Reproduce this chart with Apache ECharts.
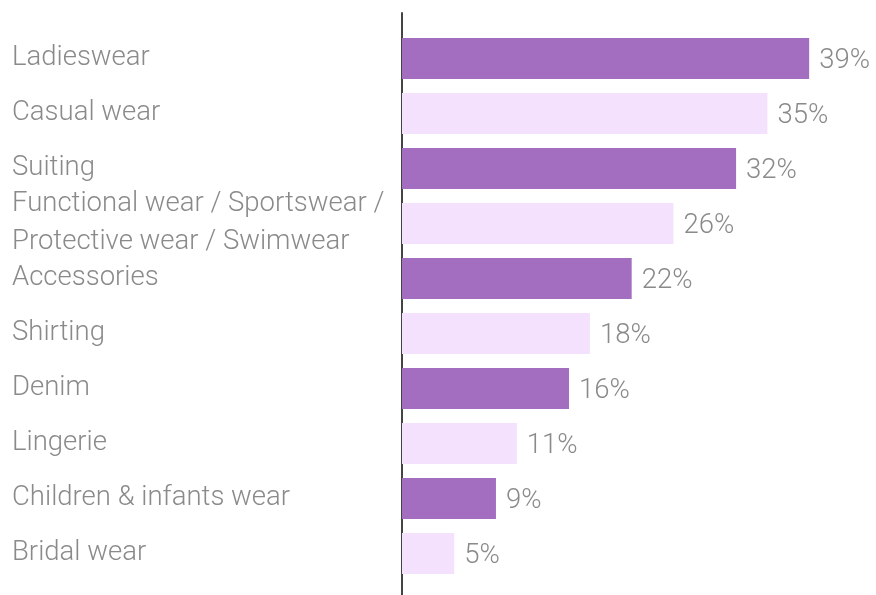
<!DOCTYPE html>
<html>
<head>
<meta charset="utf-8">
<script src="https://cdn.jsdelivr.net/npm/echarts@6/dist/echarts.min.js"></script>
<style>
html,body{margin:0;padding:0;background:#fff;}
#chart{width:876px;height:595px;}
</style>
</head>
<body>
<div id="chart"></div>
<script>
const categories = [
  "Ladieswear",
  "Casual wear",
  "Suiting",
  "Functional wear / Sportswear /\nProtective wear / Swimwear",
  "Accessories",
  "Shirting",
  "Denim",
  "Lingerie",
  "Children & infants wear",
  "Bridal wear"
];
const values = [39, 35, 32, 26, 22, 18, 16, 11, 9, 5];
const barColors = ["#a36dc0", "#f3e1fe"];

const chart = echarts.init(document.getElementById('chart'));
const fontFamily = 'Roboto, "Liberation Sans", sans-serif';
chart.setOption({
  animation: false,
  grid: [
    {left: 402, top: 31, width: 469.8, height: 550, containLabel: false},
    {left: 402, top: 13, width: 100, height: 582, containLabel: false}
  ],
  xAxis: [
    {gridIndex: 0, type: 'value', min: 0, max: 45, show: false},
    {gridIndex: 1, type: 'value', min: 0, max: 1, show: false}
  ],
  yAxis: [
    {
      gridIndex: 0,
      type: 'category',
      inverse: true,
      data: categories,
      axisLine: {show: false},
      axisTick: {show: false},
      axisLabel: {
        align: 'left',
        margin: 390,
        color: '#8a8a8a',
        fontSize: 27.5,
        fontWeight: 300,
        fontFamily: fontFamily,
        lineHeight: 38
      }
    },
    {
      gridIndex: 1,
      type: 'value',
      min: 0,
      max: 1,
      axisLine: {show: true, lineStyle: {color: '#444', width: 2}},
      axisTick: {show: false},
      axisLabel: {show: false},
      splitLine: {show: false}
    }
  ],
  series: [{
    type: 'bar',
    xAxisIndex: 0,
    yAxisIndex: 0,
    data: values,
    barWidth: 41,
    itemStyle: {
      color: function (p) { return barColors[p.dataIndex % 2]; }
    },
    label: {
      show: true,
      position: 'right',
      distance: 10,
      offset: [0, 3],
      formatter: '{c}%',
      color: '#8a8a8a',
      fontSize: 27.5,
      fontWeight: 300,
      fontFamily: fontFamily
    }
  }]
});
</script>
</body>
</html>
